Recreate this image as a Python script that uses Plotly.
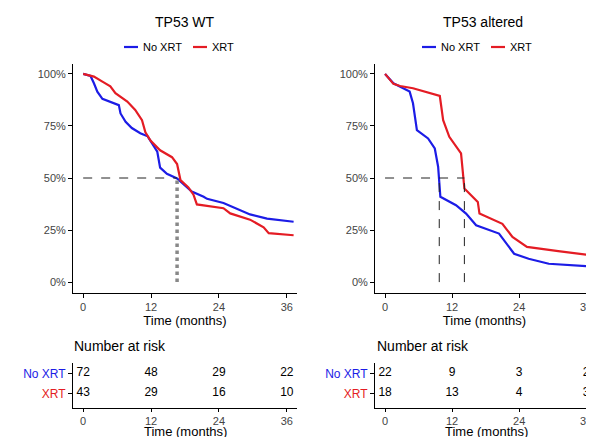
import plotly.graph_objects as go

W, H = 594, 437
OFF = 8  # page body margin: the figure starts 8px in from the window corner
FW, FH = W - OFF, H - OFF

# ---- data ----
wt_no_t = [0, 1.3, 1.9, 2.5, 3.4, 4.8, 6.3, 6.6, 7.5, 8.6, 10.1, 11.4, 12.2, 13.1, 13.6, 14.8,
           16.6, 18.0, 19.2, 21.3, 21.9, 24.8, 27.2, 29.5, 32.5, 37.2]
wt_no_s = [100, 99, 95.5, 91.5, 88, 86.7, 85, 81, 77, 74, 71.5, 70, 66.6, 62.6, 55, 52,
           49.8, 46.5, 43.5, 41, 40, 38, 35, 32.5, 30.5, 29]
wt_xrt_t = [0, 1.9, 3.4, 4.8, 5.7, 7.8, 9.2, 10.4, 11.0, 11.9, 13.6, 15.7, 16.6, 16.9, 17.2,
            18.6, 19.5, 20.1, 22.5, 24.8, 26.0, 29.5, 31.9, 32.8, 37.2]
wt_xrt_s = [100, 98.7, 96.3, 94, 90.7, 86.7, 82.7, 77.8, 72, 68, 63.3, 60, 56.7, 52, 49,
            45.5, 42, 37.3, 36.5, 35.5, 33, 30, 26.3, 23.5, 22.5]

alt_no_t = [0, 1.5, 2.1, 4.4, 5.0, 5.7, 7.7, 8.9, 9.5, 9.9, 12.7, 14.5, 16.3, 18.0, 20.4,
            23.1, 25.7, 29.3, 37.0]
alt_no_s = [100, 95.5, 94.7, 91.5, 85.9, 73, 69, 64.2, 55.4, 41, 36.9, 32.9, 27.3, 25.7, 23.3,
            13.6, 11.2, 8.8, 7.5]
alt_xrt_t = [0, 1.5, 2.7, 5.0, 9.8, 10.4, 11.5, 13.6, 14.2, 15.7, 16.6, 16.9, 21.0, 22.8,
             25.4, 31.0, 37.0]
alt_xrt_s = [100, 95.2, 94.2, 93.1, 89.4, 77.8, 69.8, 61.8, 45, 40.9, 38.5, 32.9, 28, 21.7,
             16.9, 14.9, 12.8]

wt_medians = [16.6]
alt_medians = [9.7, 14.2]

risk_times = [0, 12, 24, 36]
wt_risk_no = [72, 48, 29, 22]
wt_risk_xrt = [43, 29, 16, 10]
alt_risk_no = [22, 9, 3, 2]
alt_risk_xrt = [18, 13, 4, 3]

groups = ["No XRT", "XRT"]
titles = ["TP53 WT", "TP53 altered"]
BLUE, RED = "#1c1ce6", "#e41c24"
FONT = "Liberation Sans, Arial, sans-serif"


def px(x):
    return (x - OFF) / FW


def py(y):
    return (H - y) / FH


fig = go.Figure()


def add_curve(t, s, color, xa, ya):
    fig.add_trace(go.Scatter(x=t, y=[v / 100 for v in s], mode="lines", xaxis=xa, yaxis=ya,
                             line=dict(color=color, width=2.2), showlegend=False, hoverinfo="skip"))


add_curve(wt_no_t, wt_no_s, BLUE, "x", "y")
add_curve(wt_xrt_t, wt_xrt_s, RED, "x", "y")
add_curve(alt_no_t, alt_no_s, BLUE, "x2", "y2")
add_curve(alt_xrt_t, alt_xrt_s, RED, "x2", "y2")

# median lines
fig.add_trace(go.Scatter(x=[0, max(wt_medians)], y=[0.5, 0.5], mode="lines", xaxis="x", yaxis="y",
                         line=dict(color="#222", width=1, dash="dash"), showlegend=False))
for m in wt_medians:
    fig.add_trace(go.Scatter(x=[m, m], y=[0, 0.5], mode="lines", xaxis="x", yaxis="y",
                             line=dict(color="#888", width=3.5, dash="dot"), showlegend=False))
fig.add_trace(go.Scatter(x=[0, max(alt_medians)], y=[0.5, 0.5], mode="lines", xaxis="x2", yaxis="y2",
                         line=dict(color="#222", width=1, dash="dash"), showlegend=False))
for m in alt_medians:
    fig.add_trace(go.Scatter(x=[m, m], y=[0, 0.5], mode="lines", xaxis="x2", yaxis="y2",
                             line=dict(color="#222", width=1, dash="dash"), showlegend=False))

# risk tables
for xa, ya, no, xr in [("x3", "y3", wt_risk_no, wt_risk_xrt), ("x4", "y4", alt_risk_no, alt_risk_xrt)]:
    fig.add_trace(go.Scatter(x=risk_times, y=[1] * 4, mode="text", text=[str(v) for v in no],
                             xaxis=xa, yaxis=ya, textfont=dict(size=12, color="black", family=FONT),
                             cliponaxis=False, showlegend=False, hoverinfo="skip"))
    fig.add_trace(go.Scatter(x=risk_times, y=[0] * 4, mode="text", text=[str(v) for v in xr],
                             xaxis=xa, yaxis=ya, textfont=dict(size=12, color="black", family=FONT),
                             cliponaxis=False, showlegend=False, hoverinfo="skip"))

# ---- axes ----
left_dom = [px(73), px(297)]
right_dom = [px(375), 1.0]
km_dom = [py(292.5), py(63.5)]
risk_dom = [py(407.5), py(363)]

common = dict(showgrid=False, zeroline=False, showline=True, linecolor="black", linewidth=1,
              ticks="outside", ticklen=4, tickcolor="black", automargin=False,
              ticklabeloverflow="allow",
              tickfont=dict(size=11, color="#444", family=FONT))
km_x = dict(common, tickvals=risk_times,
            title=dict(text="Time (months)", font=dict(size=13, color="black", family=FONT), standoff=1))
risk_x = dict(common, tickvals=risk_times, ticklen=3)

fig.update_layout(
    xaxis=dict(km_x, domain=left_dom, range=[-1.8, 37.8], anchor="y"),
    xaxis2=dict(km_x, domain=right_dom, range=[-1.8, 37.4], anchor="y2"),
    xaxis3=dict(risk_x, domain=left_dom, range=[-1.8, 37.8], anchor="y3"),
    xaxis4=dict(risk_x, domain=right_dom, range=[-1.8, 37.4], anchor="y4"),
    yaxis=dict(common, domain=km_dom, range=[-0.05, 1.05], anchor="x",
               tickvals=[0, 0.25, 0.5, 0.75, 1], ticktext=["0%", "25%", "50%", "75%", "100%"]),
    yaxis2=dict(common, domain=km_dom, range=[-0.05, 1.05], anchor="x2",
                tickvals=[0, 0.25, 0.5, 0.75, 1], ticktext=["0%", "25%", "50%", "75%", "100%"]),
)
risk_ticktext = [f"<span style='color:{RED}'>{groups[1]}</span>",
                 f"<span style='color:{BLUE}'>{groups[0]}</span>"]
for name, anchor in [("yaxis3", "x3"), ("yaxis4", "x4")]:
    fig.update_layout({name: dict(common, domain=risk_dom, range=[-0.71, 1.52], anchor=anchor,
                                  tickvals=[0, 1], ticktext=risk_ticktext,
                                  tickfont=dict(size=12, family=FONT))})

# ---- titles, legends ----
ann = []
shapes = []


def label(text, x, y, size, xanchor="center"):
    ann.append(dict(text=text, x=px(x), y=py(y), xref="paper", yref="paper",
                    xanchor=xanchor, yanchor="middle", showarrow=False,
                    font=dict(size=size, color="black", family=FONT)))


for title, cx in zip(titles, [185, 483]):
    label(title, cx, 22, 14)
    lx = cx - 2
    for off, col, lab in [(-59, BLUE, groups[0]), (10, RED, groups[1])]:
        shapes.append(dict(type="line", xref="paper", yref="paper",
                           x0=px(lx + off), x1=px(lx + off + 14),
                           y0=py(47), y1=py(47), line=dict(color=col, width=2.2)))
        label(lab, lx + off + 17, 47, 11, "left")
for x0, cx in [(72, 185), (375, 486)]:
    label("Number at risk", x0, 346, 14, "left")
    # risk table x-axis title (clipped at the bottom edge as in the original)
    label("Time (months)", cx, 431, 13)

fig.update_layout(
    width=FW, height=FH, margin=dict(l=0, r=0, t=0, b=0),
    paper_bgcolor="white", plot_bgcolor="white",
    font=dict(family=FONT), annotations=ann, shapes=shapes, showlegend=False,
)

fig.write_html("out.html")
